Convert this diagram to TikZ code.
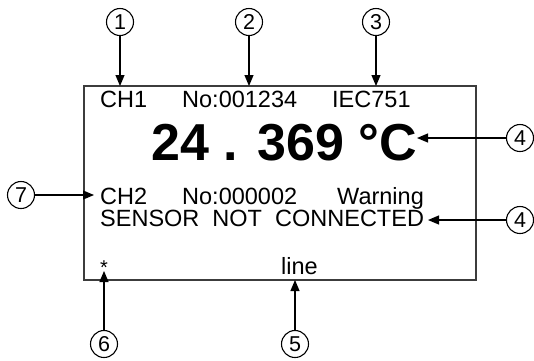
\documentclass[tikz,border=0pt]{standalone}
\usepackage{fontspec}
\setmainfont{Liberation Sans}
\usepackage{tikz}
\usetikzlibrary{arrows.meta}
\definecolor{frame}{RGB}{60,60,60}
\tikzset{
  callout/.style={
    circle, draw, line width=1.1pt, minimum size=27pt,
    inner sep=0pt, font=\fontsize{21.5}{22}\selectfont
  },
  pointer/.style={-{Triangle[length=11pt,width=9pt]}, line width=1.1pt},
  lcd/.style={anchor=base west, inner sep=0pt, font=\fontsize{23.5}{26}\selectfont},
  reading/.style={anchor=base west, inner sep=0pt, font=\fontsize{52}{56}\selectfont\bfseries},
}

\begin{document}
\begin{tikzpicture}[x=1pt, y=-1pt]
  \useasboundingbox (0,0) rectangle (534,360);

  % display frame
  \draw[frame, line width=1.4pt] (84,86) rectangle (476,280);

  % display texts
  \node[lcd] (ch1) at (100,107) {CH1};
  \node[lcd] (no1) at (182,107) {No:001234};
  \node[lcd] (iec) at (332,107) {IEC751};
  \node[reading] (temp) at (151,160) {24 . 369 °C};
  \node[lcd] (ch2) at (100,204.5) {CH2};
  \node[lcd] (no2) at (182,204.5) {No:000002};
  \node[lcd] (warn) at (337,204.5) {Warning};
  \node[lcd] (msg) at (100,226.6) {SENSOR~~NOT~~CONNECTED};
  \node[lcd, anchor=base, font=\fontsize{20}{22}\selectfont] (star) at (104,274) {*};
  \node[lcd, anchor=base] (line) at (299.5,274) {line};

  % callout numbers
  \node[callout] (c1) at (120,22) {1};
  \node[callout] (c2) at (249,22) {2};
  \node[callout] (c3) at (376,22) {3};
  \node[callout] (c4a) at (520,138) {4};
  \node[callout] (c4b) at (520,220) {4};
  \node[callout] (c7) at (21,195) {7};
  \node[callout] (c6) at (104,344) {6};
  \node[callout] (c5) at (295,344) {5};

  % arrow targets
  \coordinate (t1) at (120,86);
  \coordinate (t2) at (249,86);
  \coordinate (t3) at (376,86);
  \coordinate (t4a) at (417,138);
  \coordinate (t4b) at (428,220);
  \coordinate (t7) at (94,195);
  \coordinate (t6) at (104,271);
  \coordinate (t5) at (295,280);

  \draw[pointer] (c1) -- (t1);
  \draw[pointer] (c2) -- (t2);
  \draw[pointer] (c3) -- (t3);
  \draw[pointer] (c4a) -- (t4a);
  \draw[pointer] (c4b) -- (t4b);
  \draw[pointer] (c7) -- (t7);
  \draw[pointer] (c6) -- (t6);
  \draw[pointer] (c5) -- (t5);
\end{tikzpicture}
\end{document}
